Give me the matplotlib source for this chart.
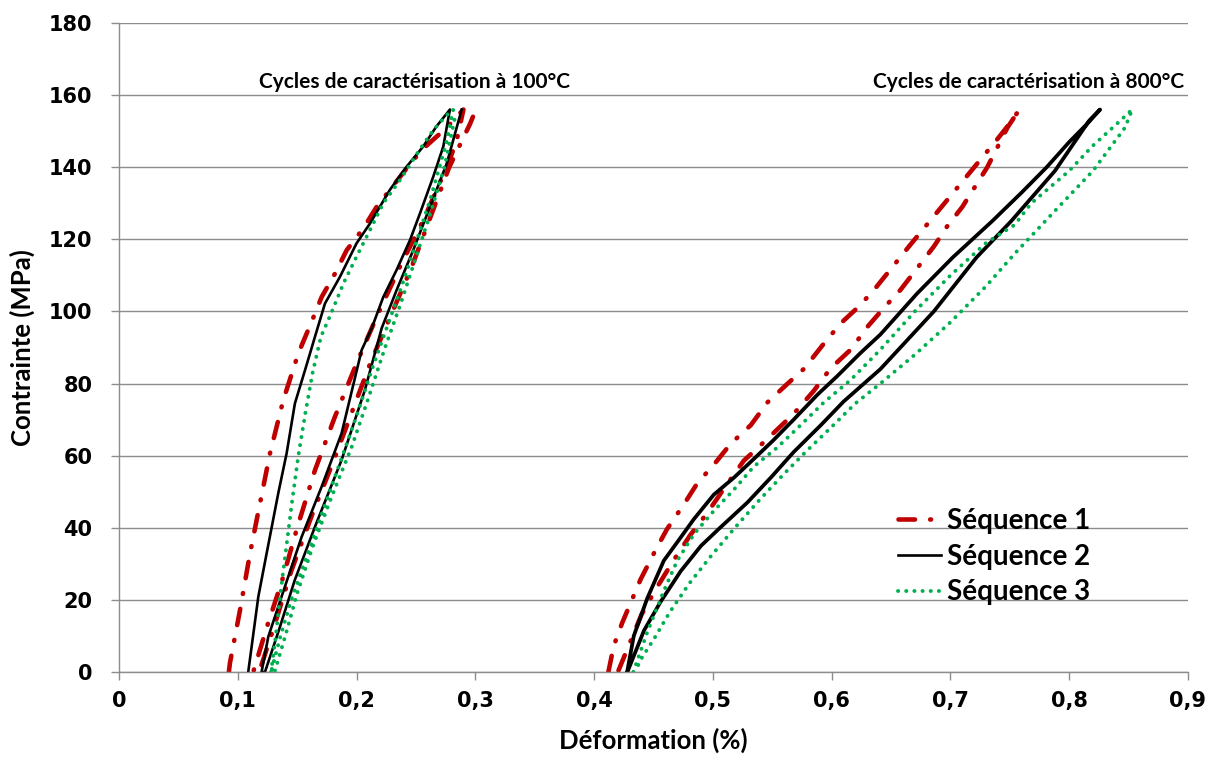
import matplotlib
matplotlib.use("Agg")
import matplotlib.pyplot as plt
from matplotlib.lines import Line2D

# ---------------- data (Déformation %, Contrainte MPa) ----------------
# Séquence 1 – cycles à 100°C (montée, descente, remontée)
s1_100_x = [0.0925, 0.0934, 0.1019, 0.1103, 0.1187, 0.1271, 0.1383, 0.151, 0.162, 0.1706, 0.182, 0.1917,
            0.2056, 0.2169, 0.2477, 0.259, 0.2759, 0.2814, 0.290,
            0.284, 0.2759, 0.2562, 0.2365, 0.2169, 0.200, 0.1818, 0.165, 0.150, 0.137, 0.125, 0.113,
            0.118, 0.130, 0.145, 0.163, 0.180, 0.196, 0.212, 0.229, 0.246, 0.262, 0.278, 0.2955, 0.298]
s1_100_y = [0, 2.5, 17.2, 32.9, 46.8, 60.6, 75.4, 88.4, 97, 104, 110.6, 117,
            123, 129, 142, 146, 151, 153, 156,
            147, 140, 125.3, 112.4, 98.5, 85.6, 70.8, 56, 40, 25, 13, 0,
            0, 12, 28, 44, 58, 72, 86, 99, 112, 126, 140, 152, 154]

# Séquence 2 – cycles à 100°C
s2_100_x = [0.1088, 0.1173, 0.1243, 0.1341, 0.1411, 0.1481, 0.1566, 0.165, 0.1734, 0.186, 0.200, 0.2113,
            0.228, 0.242, 0.256, 0.267, 0.2786,
            0.273, 0.2646, 0.2534, 0.245, 0.2337, 0.2225, 0.2127, 0.2043, 0.1874, 0.1706, 0.1538, 0.1397,
            0.1257, 0.120,
            0.1229, 0.135, 0.148, 0.165, 0.1874, 0.207, 0.2211, 0.2337, 0.2477, 0.2618, 0.2759, 0.2885]
s2_100_y = [0, 20.9, 32.9, 49.6, 60.6, 74.5, 83.7, 93, 102.2, 109.6, 118.9, 124.4,
            133.7, 140.1, 145.7, 151.2, 156,
            145.7, 137.4, 127.2, 119.8, 111.5, 104, 95.3, 89.3, 66.2, 51.4, 37.5, 23.7,
            9.8, 0,
            0, 12, 25.5, 40.3, 58.8, 78.2, 95.3, 105.9, 117, 129, 141, 156]

# Séquence 3 – cycles à 100°C
s3_100_x = [0.128, 0.132, 0.136, 0.141, 0.146, 0.151, 0.157, 0.163, 0.170, 0.178, 0.189, 0.200, 0.2127,
            0.2225, 0.2365, 0.253, 0.2646, 0.276, 0.2814,
            0.275, 0.262, 0.250, 0.238, 0.226, 0.213, 0.200, 0.186, 0.172, 0.158, 0.145, 0.136, 0.128,
            0.131, 0.140, 0.150, 0.163, 0.179, 0.196, 0.210, 0.224, 0.237, 0.250, 0.262, 0.274, 0.283]
s3_100_y = [0, 10, 22, 35, 48, 60, 72, 83, 93, 99, 107.8, 115.2, 123.5,
            130, 136.4, 144.8, 150.3, 154.5, 156,
            146, 131, 119, 107, 96, 84, 71, 58, 45, 32, 20, 10, 0,
            0, 10, 21.8, 34.7, 48.6, 62.5, 76, 90, 102, 115, 127, 140, 154]

# Séquence 1 – cycles à 800°C (montée, descente)
s1_800_x = [0.412, 0.4166, 0.4236, 0.439, 0.452, 0.4615, 0.4756, 0.4868, 0.502, 0.515, 0.532, 0.546,
            0.563, 0.577, 0.592, 0.6076, 0.623, 0.6357, 0.665, 0.680, 0.695, 0.710, 0.725, 0.740, 0.752, 0.758,
            0.748, 0.731, 0.710, 0.697, 0.686, 0.672, 0.658, 0.644, 0.630, 0.616, 0.599, 0.585, 0.568,
            0.547, 0.526, 0.509, 0.495, 0.481, 0.467, 0.452, 0.440, 0.430, 0.420]
s1_800_y = [0, 7.3, 13.6, 25.6, 34, 39.7, 46.5, 52.3, 58, 63.3, 68.5, 74.8,
            80, 84.2, 90.5, 96.7, 101.4, 106, 118, 124, 130, 136, 142, 148, 153, 156,
            151, 140, 129, 123.5, 118, 112, 106, 101, 95.7, 89.4, 84.2, 78, 71.6,
            65, 58.6, 50.7, 44, 38, 31, 23, 16, 8, 0]

# Séquence 2 – cycles à 800°C
s2_800_x = [0.4278, 0.4334, 0.4447, 0.4587, 0.470, 0.484, 0.5008, 0.5177, 0.5345, 0.551, 0.568, 0.588,
            0.6048, 0.624, 0.641, 0.672, 0.702, 0.735, 0.760, 0.781, 0.800, 0.815, 0.826,
            0.817, 0.788, 0.751, 0.722, 0.686, 0.641, 0.610, 0.591, 0.568, 0.549, 0.529, 0.506, 0.490,
            0.473, 0.456, 0.442, 0.428]
s2_800_y = [0, 10, 20.4, 30.9, 36, 42.4, 49.2, 53.9, 59.1, 64.3, 70, 76.9,
            82.1, 88.4, 93.6, 105, 115, 125, 133, 140, 147, 152, 156,
            153, 139, 125, 115, 100, 84, 75, 68.5, 61, 54, 47, 40, 35,
            28, 19.5, 11.5, 0]

# Séquence 3 – cycles à 800°C
s3_800_x = [0.433, 0.4447, 0.4587, 0.470, 0.484, 0.500, 0.518, 0.5345, 0.554, 0.574, 0.5935, 0.616,
            0.641, 0.670, 0.700, 0.730, 0.754, 0.768, 0.800, 0.820, 0.840, 0.853,
            0.847, 0.820, 0.794, 0.754, 0.730, 0.700, 0.670, 0.641, 0.620, 0.600, 0.578, 0.560, 0.540,
            0.5185, 0.498, 0.480, 0.4635, 0.451, 0.4376, 0.436]
s3_800_y = [0, 11, 22.5, 30.9, 38.2, 44.4, 50.7, 57, 62.2, 68.5, 74.8, 81,
            89.4, 100, 110, 119, 124, 130, 139, 146, 152, 156,
            151, 139, 130, 116, 107, 97, 88, 80, 74.5, 68, 61, 55, 48,
            40, 32, 24.5, 16.5, 9.5, 2.6, 0]

series_labels = ["Séquence 1", "Séquence 2", "Séquence 3"]
x_ticks = [0, 0.1, 0.2, 0.3, 0.4, 0.5, 0.6, 0.7, 0.8, 0.9]
x_tick_labels = ["0", "0,1", "0,2", "0,3", "0,4", "0,5", "0,6", "0,7", "0,8", "0,9"]
y_ticks = [0, 20, 40, 60, 80, 100, 120, 140, 160, 180]
annotations = ["Cycles de caractérisation à 100°C", "Cycles de caractérisation à 800°C"]

# ---------------- styles ----------------
RED = "#C00000"
GREEN = "#00B050"
GRID = "#8C8C8C"
lab_font = ["Lato", "DejaVu Sans"]
tick_font = ["DejaVu Sans"]

st1 = dict(color=RED, lw=3.3, linestyle=(0, (3.6, 3.3, 0.2, 3.3)), dash_capstyle="round", solid_capstyle="round")
st2 = dict(color="black", lw=1.9, linestyle="-")
st3 = dict(color=GREEN, lw=2.8, linestyle=(0, (0.05, 2.05)), dash_capstyle="round")

fig = plt.figure(figsize=(12.18, 7.67), dpi=100)
ax = fig.add_axes([119 / 1218, 1 - 672 / 767, (1188 - 119) / 1218, (672 - 23) / 767])

ax.plot(s1_100_x, s1_100_y, **st1)
ax.plot(s1_800_x, s1_800_y, **st1)
ax.plot(s2_100_x, s2_100_y, **st2)
ax.plot(s2_800_x, s2_800_y, color="black", lw=2.7, linestyle="-")
ax.plot(s3_100_x, s3_100_y, **st3)
ax.plot(s3_800_x, s3_800_y, **st3)

ax.set_xlim(0, 0.9)
ax.set_ylim(0, 180)
ax.set_xticks(x_ticks)
ax.set_xticklabels(x_tick_labels)
ax.set_yticks(y_ticks)
ax.set_yticklabels([str(v) for v in y_ticks])
for lbl in ax.get_xticklabels() + ax.get_yticklabels():
    lbl.set_fontfamily(tick_font)
    lbl.set_fontweight("bold")
    lbl.set_fontsize(15)
    lbl.set_color("black")

ax.yaxis.grid(True, color=GRID, lw=1.0)
ax.set_axisbelow(True)
for s in ["top", "right"]:
    ax.spines[s].set_visible(False)
for s in ["left", "bottom"]:
    ax.spines[s].set_color(GRID)
    ax.spines[s].set_linewidth(1.0)
ax.tick_params(axis="y", direction="out", length=6, width=1, color=GRID, pad=13)
ax.tick_params(axis="x", direction="out", length=6, width=1, color=GRID, pad=8)

ax.set_xlabel("Déformation (%)", fontfamily=lab_font, fontweight="bold", fontsize=18.5, labelpad=12)
ax.set_ylabel("Contrainte (MPa)", fontfamily=lab_font, fontweight="bold", fontsize=18.5, labelpad=10)

ax.text(0.249, 163.5, annotations[0], ha="center", va="center", fontfamily=lab_font,
        fontweight="bold", fontsize=15)
ax.text(0.897, 163.5, annotations[1], ha="right", va="center", fontfamily=lab_font,
        fontweight="bold", fontsize=15)

handles = [Line2D([], [], **st1), Line2D([], [], **st2), Line2D([], [], **st3)]
leg = fig.legend(handles, series_labels, loc="upper left", bbox_to_anchor=(873 / 1218, 1 - 483 / 767),
                 frameon=False, handlelength=1.55, handletextpad=0.2, labelspacing=0.35,
                 prop=dict(family=lab_font, weight="bold", size=20))

fig.savefig("out.png", dpi=100)
